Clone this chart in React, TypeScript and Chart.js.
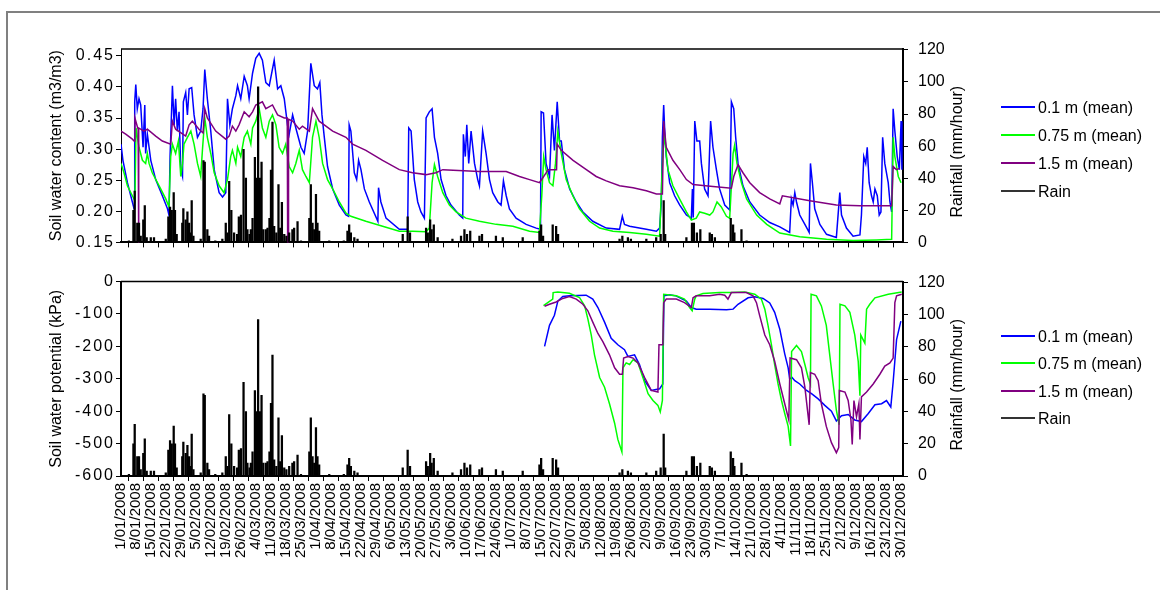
import React, { useEffect, useRef } from "react";
import { Chart, registerables } from "chart.js";

Chart.register(...registerables);

const FONT = "'Liberation Sans', Arial, Helvetica, sans-serif";

const weekLabels = [
  "1/01/2008", "8/01/2008", "15/01/2008", "22/01/2008", "29/01/2008", "5/02/2008", "12/02/2008",
  "19/02/2008", "26/02/2008", "4/03/2008", "11/03/2008", "18/03/2008", "25/03/2008", "1/04/2008",
  "8/04/2008", "15/04/2008", "22/04/2008", "29/04/2008", "6/05/2008", "13/05/2008", "20/05/2008",
  "27/05/2008", "3/06/2008", "10/06/2008", "17/06/2008", "24/06/2008", "1/07/2008", "8/07/2008",
  "15/07/2008", "22/07/2008", "29/07/2008", "5/08/2008", "12/08/2008", "19/08/2008", "26/08/2008",
  "2/09/2008", "9/09/2008", "16/09/2008", "23/09/2008", "30/09/2008", "7/10/2008", "14/10/2008",
  "21/10/2008", "28/10/2008", "4/11/2008", "11/11/2008", "18/11/2008", "25/11/2008", "2/12/2008",
  "9/12/2008", "16/12/2008", "23/12/2008", "30/12/2008",
];

const contentTicks = [0.15, 0.2, 0.25, 0.3, 0.35, 0.4, 0.45];
const potentialTicks = [-600, -500, -400, -300, -200, -100, 0];
const rainTicks = [0, 20, 40, 60, 80, 100, 120];

const seriesNames = ["0.1 m (mean)", "0.75 m (mean)", "1.5 m (mean)", "Rain"];
const seriesColors = ["#0000ff", "#00ff00", "#800080", "#000000"];

// [day of year (0 = 1 Jan), rainfall mm/hour]
const rain: [number, number][] = [
  [3.7, 1], [5.8, 20], [6.4, 32], [7.6, 12], [8.4, 12], [9.2, 4], [10.4, 14], [11.1, 23], [12, 3], [13.9, 3], [15.4, 3],
  [20.9, 2], [22.1, 16], [22.9, 22], [23.7, 20], [24.6, 31], [25.2, 20], [26, 5], [28.6, 12], [29.1, 21], [30.2, 14],
  [31, 19], [31.8, 12], [32.4, 6], [33, 26], [33.8, 4], [37.2, 2], [38.5, 51], [39.1, 50], [40.3, 8], [41.1, 4], [44, 1],
  [47.3, 2], [48.9, 12], [49.7, 6], [50.5, 38], [51.5, 20], [52.8, 6], [54.2, 5], [55, 16], [56, 17], [57.2, 58],
  [58.3, 40], [59, 8], [60, 5], [60.6, 8], [61.4, 15], [62.5, 53], [63.2, 40], [64, 97], [64.8, 40], [65.6, 50],
  [66.4, 8], [67.6, 8], [68.4, 9], [69.3, 15], [70, 45], [70.7, 75], [71.5, 10], [72.5, 6], [73.5, 36], [74.3, 9],
  [75.1, 25], [76.2, 5], [77.2, 4], [78.5, 6], [80, 8], [80.8, 9], [82.4, 13], [84, 1], [87.9, 15], [88.6, 36],
  [89.4, 12], [90.2, 8], [91, 30], [91.7, 12], [92.5, 7], [97.2, 1], [104, 1], [105.7, 7], [106.5, 11], [107.3, 6],
  [108.9, 3], [110.4, 2], [131.5, 5], [133.8, 16], [134.9, 6], [142.4, 9], [143.2, 6], [144.3, 14], [145, 8],
  [146, 11], [147.8, 3], [154.7, 2], [158.7, 4], [160.3, 8], [161.5, 5], [163, 7], [167.3, 4], [168.5, 5], [175, 4],
  [178.2, 3], [187.5, 3], [195.3, 7], [196.1, 11], [197, 4], [201.5, 11], [203.1, 10], [204, 5], [232.7, 2],
  [234, 4], [236.6, 3], [238, 2], [245.2, 2], [249.8, 3], [251.9, 5], [253.3, 26], [254, 5], [263.9, 3],
  [266.5, 12], [267.4, 12], [268.8, 6], [270.4, 8], [274.8, 6], [275.8, 5], [277.2, 3], [284.6, 15], [285.7, 11],
  [286.3, 6], [289.6, 8], [292, 1],
];

// Soil water content (m3/m3), [day, value]
const content01: [number, number][] = [
  [0, 0.308], [0.9, 0.282], [3, 0.246], [5.3, 0.215], [6.1, 0.204], [6.4, 0.376], [6.9, 0.404], [7.6, 0.365],
  [8.4, 0.381], [9.2, 0.371], [10.3, 0.303], [11.1, 0.371], [11.5, 0.293], [12.3, 0.324], [13.9, 0.282],
  [16.2, 0.251], [19.3, 0.225], [21.7, 0.204], [22.4, 0.194], [22.9, 0.288], [23.5, 0.35], [24, 0.402],
  [24.8, 0.339], [25.5, 0.381], [26.3, 0.329], [27.1, 0.36], [27.9, 0.267], [28.7, 0.256], [29.1, 0.376],
  [30.2, 0.391], [31, 0.355], [31.8, 0.397], [33, 0.399], [34.1, 0.355], [35.7, 0.319], [37.2, 0.329],
  [38.3, 0.365], [39.1, 0.428], [40.3, 0.381], [41.9, 0.329], [43.5, 0.267], [45.8, 0.23], [47.4, 0.223],
  [48.9, 0.23], [49.7, 0.381], [50.8, 0.339], [52, 0.365], [53.6, 0.386], [54.4, 0.402], [55.9, 0.381],
  [57.5, 0.417], [59, 0.402], [59.8, 0.381], [61.4, 0.422], [62.9, 0.446], [64.5, 0.454], [66, 0.443],
  [67.6, 0.407], [69.2, 0.402], [71.5, 0.443], [73.1, 0.397], [74.6, 0.402], [76.2, 0.381], [77.7, 0.339],
  [78.5, 0.324], [80.1, 0.355], [81.6, 0.334], [84, 0.303], [85.5, 0.293], [87.1, 0.329], [88.6, 0.438],
  [90.2, 0.402], [91.7, 0.397], [92.8, 0.407], [93.8, 0.355], [94.9, 0.319], [96.4, 0.272], [98.8, 0.236],
  [101.9, 0.21], [105, 0.194], [106.2, 0.192], [106.5, 0.339], [107.3, 0.329], [108.9, 0.262], [110, 0.251],
  [110.9, 0.282], [112, 0.267], [113.6, 0.236], [115.9, 0.215], [119.9, 0.184], [120.2, 0.238], [121.3, 0.215],
  [123.7, 0.189], [129.9, 0.171], [133.8, 0.171], [134.3, 0.334], [135.4, 0.329], [136.9, 0.251], [138.5, 0.215],
  [140, 0.199], [141.6, 0.189], [142.4, 0.35], [143.9, 0.36], [145.2, 0.365], [146.3, 0.319], [147.8, 0.293],
  [149.4, 0.251], [151.7, 0.225], [154, 0.21], [157.9, 0.194], [159.5, 0.189], [159.8, 0.324], [160.7, 0.288],
  [161.4, 0.339], [162.3, 0.277], [163.4, 0.329], [165, 0.277], [166.5, 0.251], [167.3, 0.241], [168.8, 0.329],
  [170.4, 0.293], [172, 0.251], [173.5, 0.23], [175.9, 0.215], [177.4, 0.21], [178.5, 0.249], [179.8, 0.225],
  [181.3, 0.204], [184.4, 0.189], [189.1, 0.179], [193.8, 0.173], [195.8, 0.171], [196.1, 0.36], [197.2, 0.358],
  [198.4, 0.277], [200, 0.256], [201.2, 0.355], [202.3, 0.298], [203.6, 0.376], [204.7, 0.313], [205.5, 0.313],
  [207, 0.267], [209.4, 0.236], [212.5, 0.215], [215.6, 0.199], [220.2, 0.184], [226.5, 0.173], [232.7, 0.171],
  [234, 0.192], [235, 0.179], [237.4, 0.176], [245.2, 0.171], [249.9, 0.168], [251.4, 0.173], [252.2, 0.215],
  [252.7, 0.319], [253.3, 0.371], [253.9, 0.319], [254.5, 0.288], [256.1, 0.246], [258.4, 0.225], [260.8, 0.21],
  [263.9, 0.194], [266.2, 0.189], [266.7, 0.236], [267.1, 0.19], [267.8, 0.345], [268.8, 0.313], [270.1, 0.313],
  [270.9, 0.277], [272.4, 0.236], [274, 0.225], [275.2, 0.345], [276.3, 0.303], [277.9, 0.267], [279.4, 0.236],
  [281.8, 0.21], [284.1, 0.202], [284.9, 0.376], [286, 0.365], [286.9, 0.319], [288, 0.277], [290.3, 0.241],
  [293.5, 0.215], [298.1, 0.194], [302.8, 0.182], [307.5, 0.175], [312.1, 0.166], [312.9, 0.22], [313.7, 0.21],
  [314.5, 0.23], [315.3, 0.215], [316.8, 0.194], [319.2, 0.179], [321.2, 0.166], [321.8, 0.277], [322.7, 0.246],
  [323.8, 0.204], [326.2, 0.179], [329.3, 0.163], [333.9, 0.158], [335.5, 0.23], [336.3, 0.194], [338.6, 0.173],
  [341.7, 0.16], [344.9, 0.162], [345.6, 0.194], [346.7, 0.288], [347.6, 0.277], [348.3, 0.303], [349.2, 0.246],
  [350.3, 0.225], [351.1, 0.215], [351.9, 0.236], [353, 0.225], [353.9, 0.194], [354.7, 0.199], [355.5, 0.319],
  [356.5, 0.277], [358.1, 0.246], [358.9, 0.215], [359.7, 0.199], [360.4, 0.365], [361.2, 0.329], [362.3, 0.288],
  [363.3, 0.267], [364.1, 0.345], [364.5, 0.267],
];

const content075: [number, number][] = [
  [0, 0.277], [1.4, 0.262], [3, 0.241], [5.3, 0.225], [6.5, 0.217], [7, 0.334], [8.4, 0.303], [10, 0.282],
  [11.5, 0.277], [12.3, 0.293], [13.1, 0.277], [14.6, 0.262], [17.8, 0.241], [20.9, 0.22], [22.4, 0.207],
  [23.2, 0.288], [24, 0.308], [25.5, 0.293], [26.8, 0.313], [27.9, 0.256], [28.7, 0.277], [29.4, 0.308],
  [31, 0.319], [32.6, 0.329], [34.1, 0.308], [35.7, 0.277], [37.2, 0.256], [38, 0.298], [39.1, 0.35],
  [40.3, 0.319], [41.9, 0.293], [43.5, 0.262], [45.8, 0.241], [48.1, 0.23], [49.7, 0.251], [51.2, 0.288],
  [52, 0.298], [53.6, 0.277], [54.4, 0.303], [55.9, 0.288], [57.5, 0.319], [59, 0.329], [60.6, 0.308],
  [61.4, 0.334], [62.9, 0.345], [64.5, 0.365], [66, 0.334], [67.6, 0.319], [69.2, 0.345], [70.7, 0.355],
  [72.3, 0.339], [73.8, 0.303], [75.4, 0.293], [76.9, 0.308], [78.5, 0.272], [80.1, 0.262], [81.6, 0.277],
  [83.2, 0.298], [84.7, 0.267], [86.3, 0.256], [87.9, 0.246], [89.4, 0.319], [91, 0.345], [92.5, 0.319],
  [94.1, 0.277], [96.4, 0.251], [98.8, 0.236], [101.9, 0.215], [105, 0.197], [107.3, 0.192], [114.3, 0.184],
  [122.1, 0.176], [129.9, 0.168], [136.1, 0.168], [142.4, 0.167], [143.9, 0.173], [145.2, 0.246], [146.3, 0.275],
  [147.8, 0.256], [150.2, 0.23], [153.3, 0.21], [156.4, 0.199], [161, 0.189], [167.3, 0.184], [175.1, 0.179],
  [182.9, 0.176], [190.7, 0.168], [195.3, 0.166], [196.4, 0.225], [197.3, 0.288], [198.4, 0.267], [200, 0.246],
  [201.6, 0.241], [202.8, 0.277], [203.9, 0.329], [205.5, 0.293], [207.8, 0.251], [210.9, 0.225], [214, 0.204],
  [218.7, 0.184], [223.4, 0.173], [229.6, 0.168], [237.4, 0.166], [245.2, 0.163], [251.4, 0.16], [253, 0.303],
  [253.7, 0.319], [255.3, 0.267], [257.6, 0.241], [260.7, 0.22], [263.9, 0.199], [266.2, 0.186], [268.5, 0.189],
  [270.1, 0.199], [272.4, 0.197], [274.8, 0.194], [276.3, 0.199], [278.2, 0.215], [280.2, 0.207], [282.6, 0.192],
  [284.1, 0.189], [285.7, 0.293], [286.4, 0.306], [287.5, 0.277], [289.6, 0.246], [292, 0.22], [296.7, 0.194],
  [301.4, 0.179], [307.5, 0.165], [316.8, 0.159], [329.3, 0.155], [341.7, 0.153], [352.6, 0.154], [359.7, 0.155],
  [360.4, 0.319], [361.2, 0.288], [362.8, 0.256], [364.1, 0.246],
];

const content15: [number, number][] = [
  [0, 0.329], [2.2, 0.324], [5.3, 0.316], [6.1, 0.313], [6.5, 0.35], [7.8, 0.334], [8, 0.334], [8.1, 0.14],
  [8.3, 0.14], [8.4, 0.334], [10.7, 0.329], [12.3, 0.332], [16.2, 0.321], [19.3, 0.313], [23.2, 0.308], [24, 0.345],
  [25.5, 0.332], [30.2, 0.321], [31.8, 0.339], [33.3, 0.345], [36.4, 0.332], [38.3, 0.326], [39.1, 0.365],
  [40.3, 0.35], [44.2, 0.329], [48.9, 0.316], [50.5, 0.321], [52, 0.337], [53.6, 0.329], [55.1, 0.339],
  [57.5, 0.36], [59.8, 0.352], [61.4, 0.36], [62.9, 0.371], [66, 0.376], [67.6, 0.365], [70.7, 0.371],
  [73.1, 0.355], [76.2, 0.35], [77.6, 0.35], [77.8, 0.14], [78, 0.14], [78.2, 0.348], [80.1, 0.345],
  [83.2, 0.332], [84.7, 0.337], [87.9, 0.329], [89.4, 0.365], [92.5, 0.345], [98.8, 0.329], [105, 0.319],
  [108.1, 0.308], [114.3, 0.298], [122.1, 0.282], [129.9, 0.267], [136.1, 0.262], [142.4, 0.259], [147, 0.262],
  [150.2, 0.267], [167.3, 0.264], [179.8, 0.264], [186, 0.256], [190.7, 0.251], [195.3, 0.246], [196.9, 0.254],
  [199.4, 0.267], [203.3, 0.267], [203.6, 0.308], [205.5, 0.298], [211, 0.282], [217.2, 0.267], [221.8, 0.256],
  [226.5, 0.249], [232.7, 0.241], [239, 0.238], [245.2, 0.233], [249.9, 0.228], [252.7, 0.228], [253.3, 0.345],
  [254.5, 0.303], [257.6, 0.282], [260.8, 0.267], [263.9, 0.251], [267, 0.243], [276.3, 0.24], [284.9, 0.237],
  [286, 0.256], [288, 0.275], [290.3, 0.262], [293.5, 0.246], [298.1, 0.23], [302.8, 0.22], [307.5, 0.212],
  [308.7, 0.225], [321.5, 0.217], [333.9, 0.21], [344.9, 0.209], [359.7, 0.209], [360.4, 0.272], [361.9, 0.267],
  [363.4, 0.269],
];

// Soil water potential (kPa), [day, value]
const potential01: [number, number][] = [
  [197.7, -200], [200, -135], [202.3, -104], [203.9, -60], [206.2, -46], [209.3, -44], [217.1, -42], [220.2, -54],
  [222.6, -80], [225.7, -125], [228.8, -175], [231.9, -195], [235, -210], [236.6, -231], [239.7, -226], [242, -256],
  [244.4, -306], [247.5, -336], [251.4, -331], [252.9, -316], [253.4, -44], [256, -41], [259, -44], [263.9, -60],
  [266.2, -80], [268.5, -85], [274.8, -85], [282.6, -87], [285.7, -85], [288, -70], [292.7, -50], [295.8, -47],
  [299.7, -52], [302.8, -66], [305.1, -95], [307.5, -147], [309.8, -223], [311.4, -266], [312.1, -300],
  [313.2, -296], [314.5, -306], [316.8, -316], [320, -336], [322.3, -346], [325.4, -362], [328.5, -382],
  [331.6, -400], [333.9, -430], [336.3, -414], [339.4, -410], [342.5, -427], [345.6, -432], [348.8, -407],
  [351.9, -380], [355, -377], [357.3, -367], [359.3, -387], [360.4, -310], [362, -179], [364, -122],
];

const potential075: [number, number][] = [
  [197.2, -74], [201.5, -54], [201.7, -34], [203.9, -32], [209.3, -36], [214, -49], [216.4, -75], [217.9, -115],
  [219.5, -165], [221, -226], [223.4, -296], [225.7, -326], [228, -377], [230.4, -437], [231.9, -487],
  [233.8, -526], [234.3, -266], [235.8, -251], [237.4, -256], [239, -241], [241.3, -251], [243.6, -296],
  [246, -346], [248.3, -367], [250.6, -382], [251.7, -402], [252.7, -367], [253.3, -39], [259.2, -44], [263, -54],
  [265.4, -80], [266.6, -90], [267.8, -54], [268.5, -44], [271.6, -37], [279.4, -34], [284.9, -34], [291.1, -32],
  [295.8, -39], [298.9, -54], [300.5, -85], [302, -135], [303.6, -195], [305.1, -256], [306.7, -316],
  [308.3, -367], [309.8, -407], [311.4, -447], [312.5, -507], [313, -216], [315.3, -197], [317.6, -216],
  [319.2, -256], [320.7, -296], [321.8, -316], [322.1, -39], [324.6, -44], [326.9, -75], [329.2, -135],
  [330.8, -226], [332.4, -316], [333.9, -397], [335.2, -442], [335.6, -70], [337.9, -75], [340.2, -95],
  [342.5, -165], [344.1, -246], [344.9, -352], [345.3, -165], [347.2, -190], [348, -85], [349.5, -70],
  [351.9, -50], [358.1, -39], [364.4, -32],
];

const potential15: [number, number][] = [
  [197.7, -76], [200, -70], [203.1, -63], [206.2, -52], [209.3, -46], [212.5, -54], [215.6, -70], [217.9, -90],
  [220.2, -125], [222.6, -160], [224.9, -185], [228, -226], [230.4, -266], [232.7, -286], [234, -286],
  [234.6, -236], [236.6, -231], [239, -236], [241.3, -251], [244.4, -296], [247.5, -336], [250.6, -341],
  [251.1, -195], [252.9, -195], [253.3, -65], [254.5, -54], [259.2, -54], [263, -65], [266.2, -80], [267, -50],
  [268.5, -44], [274.8, -44], [279.4, -39], [281.8, -42], [283.3, -54], [284.9, -34], [291.9, -34], [295, -44],
  [296.6, -65], [298.1, -105], [300.5, -165], [302.8, -195], [305.1, -246], [307.5, -316], [309.8, -377],
  [311.7, -427], [312.3, -236], [315.3, -241], [317.6, -266], [319.2, -326], [321.2, -442], [321.8, -281],
  [323.8, -286], [325.4, -306], [326.9, -377], [329.2, -447], [331.6, -497], [333.9, -528], [335, -512],
  [335.3, -336], [337.9, -341], [339.4, -367], [340.7, -427], [341.3, -503], [342.1, -367], [343.3, -417],
  [344.4, -377], [344.9, -487], [345.6, -356], [348, -341], [351.1, -316], [354.2, -286], [356.5, -261],
  [358.9, -251], [360.4, -236], [361.2, -65], [362, -44], [364.4, -39],
];

const toXY = (arr: [number, number][]) => arr.map(([x, y]) => ({ x, y }));

const RIGHT_AXIS_WIDTH = 70;
const PLOT_LEFT = 121;
const PLOT_RIGHT = 903;
const CANVAS_W = 1160;

const decorPlugin = {
  id: "decor",
  beforeDraw(chart: any) {
    // widen the left-axis tick labels a little, as in the reference rendering
    const s = chart.scales.y;
    if (s && !s.__spaced) {
      const orig = s.drawLabels.bind(s);
      s.drawLabels = (area: any) => {
        const ctx = chart.ctx;
        ctx.save();
        if ("letterSpacing" in ctx) (ctx as any).letterSpacing = "2px";
        orig(area);
        ctx.restore();
      };
      s.__spaced = true;
    }
  },
  afterDraw(chart: any) {
    const { ctx, chartArea } = chart;
    ctx.save();
    ctx.strokeStyle = "#000";
    ctx.lineWidth = 1.5;
    ctx.beginPath();
    ctx.moveTo(chartArea.left, chartArea.top);
    ctx.lineTo(chartArea.right, chartArea.top);
    ctx.stroke();
    const s = chart.scales.y2;
    ctx.translate(s.right - 15, (chartArea.top + chartArea.bottom) / 2 + 6);
    ctx.rotate(-Math.PI / 2);
    ctx.font = `16px ${FONT}`;
    ctx.fillStyle = "#000";
    ctx.textAlign = "center";
    ctx.textBaseline = "middle";
    ctx.fillText("Rainfall (mm/hour)", 0, 0);
    ctx.restore();
  },
};

type ChartSpec = {
  lines: [number, number][][];
  leftMin: number;
  leftMax: number;
  leftTicks: number[];
  leftDecimals: number;
  leftTitle: string;
  leftBorder: number;
  padTop: number;
  xHeight: number;
  showXLabels: boolean;
};

function buildChart(canvas: HTMLCanvasElement, spec: ChartSpec) {
  const lineSets = spec.lines.map((arr, i) => ({
    type: "line" as const,
    label: seriesNames[i],
    data: toXY(arr),
    borderColor: seriesColors[i],
    backgroundColor: seriesColors[i],
    borderWidth: 1.5,
    pointRadius: 0,
    tension: 0,
    yAxisID: "y",
    order: 3 - i,
  }));
  const rainSet = {
    type: "bar" as const,
    label: seriesNames[3],
    data: toXY(rain),
    backgroundColor: "#000",
    borderWidth: 0,
    barThickness: 1.6,
    yAxisID: "y2",
    order: 0,
  };
  return new Chart(canvas, {
    type: "line",
    data: { datasets: [rainSet as any, ...lineSets] },
    options: {
      animation: false,
      responsive: false,
      maintainAspectRatio: false,
      events: [],
      layout: {
        padding: { top: spec.padTop, left: 0, bottom: 0, right: CANVAS_W - PLOT_RIGHT - RIGHT_AXIS_WIDTH },
      },
      plugins: { legend: { display: false }, tooltip: { enabled: false } },
      scales: {
        x: {
          type: "linear",
          min: 0,
          max: 365,
          offset: false,
          afterBuildTicks: (s: any) => {
            s.ticks = weekLabels.map((_, i) => ({ value: i * 7 }));
          },
          afterFit: (s: any) => {
            s.height = spec.xHeight;
          },
          ticks: {
            autoSkip: false,
            maxRotation: 90,
            minRotation: 90,
            padding: 2,
            color: "#000",
            font: { family: FONT, size: 15 },
            callback: (_v: any, i: number) => (spec.showXLabels ? weekLabels[i] : ""),
          },
          grid: { drawOnChartArea: false, drawTicks: true, tickLength: 5, color: "#000", tickColor: "#000" },
          border: { display: true, color: "#000", width: 2 },
        },
        y: {
          type: "linear",
          position: "left",
          min: spec.leftMin,
          max: spec.leftMax,
          afterBuildTicks: (s: any) => {
            s.ticks = spec.leftTicks.map((v) => ({ value: v }));
          },
          afterFit: (s: any) => {
            s.width = PLOT_LEFT;
          },
          ticks: {
            color: "#000",
            padding: 1,
            font: { family: FONT, size: 16 },
            callback: (v: any) => Number(v).toFixed(spec.leftDecimals),
          },
          title: {
            display: true,
            text: spec.leftTitle,
            color: "#000",
            font: { family: FONT, size: 16 },
            padding: { top: 47, bottom: 0 },
          },
          grid: { drawOnChartArea: false, drawTicks: true, tickLength: 5, color: "#000", tickColor: "#000" },
          border: { display: true, color: "#000", width: spec.leftBorder },
        },
        y2: {
          type: "linear",
          position: "right",
          min: 0,
          max: 120.5,
          afterBuildTicks: (s: any) => {
            s.ticks = rainTicks.map((v) => ({ value: v }));
          },
          afterFit: (s: any) => {
            s.width = RIGHT_AXIS_WIDTH;
          },
          ticks: {
            color: "#000",
            padding: 10,
            font: { family: FONT, size: 16 },
            callback: (v: any) => String(v),
          },
          grid: { drawOnChartArea: false, drawTicks: true, tickLength: 5, color: "#000", tickColor: "#000" },
          border: { display: true, color: "#000", width: 2 },
        },
      },
    } as any,
    plugins: [decorPlugin],
  });
}

function Legend({ lineYs }: { lineYs: number[] }) {
  return (
    <>
      {seriesNames.map((name, i) => (
        <React.Fragment key={name}>
          <div
            style={{
              position: "absolute",
              left: 1001,
              top: Math.round(lineYs[i]) - 1,
              width: 34,
              height: 2,
              background: i === 3 ? "#333" : seriesColors[i],
            }}
          />
          <div
            style={{
              position: "absolute",
              left: 1038,
              top: Math.round(lineYs[i]) - 8,
              fontFamily: FONT,
              fontSize: 16,
              lineHeight: "18px",
              color: "#000",
              whiteSpace: "pre",
            }}
          >
            {name}
          </div>
        </React.Fragment>
      ))}
    </>
  );
}

export default function App() {
  const topRef = useRef<HTMLCanvasElement>(null);
  const botRef = useRef<HTMLCanvasElement>(null);

  useEffect(() => {
    const c1 = buildChart(topRef.current!, {
      lines: [content01, content075, content15],
      leftMin: 0.15,
      leftMax: 0.461,
      leftTicks: contentTicks,
      leftDecimals: 2,
      leftTitle: "Soil water content (m3/m3)",
      leftBorder: 1,
      padTop: 49,
      xHeight: 14,
      showXLabels: false,
    });
    const c2 = buildChart(botRef.current!, {
      lines: [potential01, potential075, potential15],
      leftMin: -600,
      leftMax: 0,
      leftTicks: potentialTicks,
      leftDecimals: 0,
      leftTitle: "Soil water potential (kPa)",
      leftBorder: 2,
      padTop: 15,
      xHeight: 114,
      showXLabels: true,
    });
    return () => {
      c1.destroy();
      c2.destroy();
    };
  }, []);

  return (
    <div
      style={{
        position: "absolute",
        left: 0,
        top: 0,
        width: 1160,
        height: 590,
        overflow: "hidden",
        background: "#fff",
      }}
    >
      <div
        style={{
          position: "absolute",
          left: 6,
          top: 11,
          width: 1300,
          height: 800,
          border: "2px solid #808080",
        }}
      />
      <canvas ref={topRef} width={1160} height={262} style={{ position: "absolute", left: 0, top: 0 }} />
      <canvas ref={botRef} width={1160} height={328} style={{ position: "absolute", left: 0, top: 262 }} />
      <Legend lineYs={[107.3, 135, 163.3, 190.7]} />
      <Legend lineYs={[336, 363.3, 391, 418.3]} />
    </div>
  );
}
